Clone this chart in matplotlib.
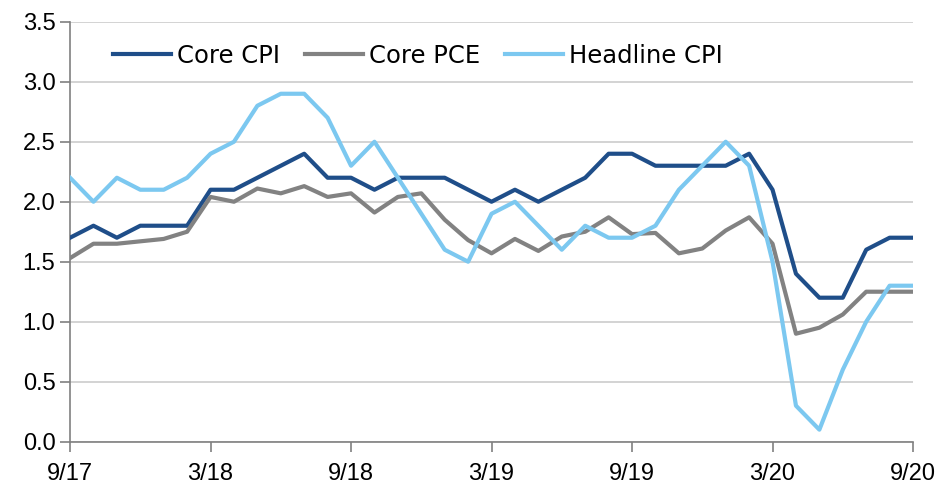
import matplotlib.pyplot as plt

months = list(range(37))
tick_pos = [0, 6, 12, 18, 24, 30, 36]
tick_labels = ['9/17', '3/18', '9/18', '3/19', '9/19', '3/20', '9/20']

core_cpi = [1.7, 1.8, 1.7, 1.8, 1.8, 1.8, 2.1, 2.1, 2.2, 2.3, 2.4, 2.2, 2.2,
            2.1, 2.2, 2.2, 2.2, 2.1, 2.0, 2.1, 2.0, 2.1, 2.2, 2.4, 2.4,
            2.3, 2.3, 2.3, 2.3, 2.4, 2.1, 1.4, 1.2, 1.2, 1.6, 1.7, 1.7]
core_pce = [1.53, 1.65, 1.65, 1.67, 1.69, 1.75, 2.04, 2.0, 2.11, 2.07, 2.13, 2.04, 2.07,
            1.91, 2.04, 2.07, 1.85, 1.68, 1.57, 1.69, 1.59, 1.71, 1.75, 1.87, 1.73,
            1.74, 1.57, 1.61, 1.76, 1.87, 1.65, 0.9, 0.95, 1.06, 1.25, 1.25, 1.25]
headline_cpi = [2.2, 2.0, 2.2, 2.1, 2.1, 2.2, 2.4, 2.5, 2.8, 2.9, 2.9, 2.7, 2.3,
                2.5, 2.2, 1.9, 1.6, 1.5, 1.9, 2.0, 1.8, 1.6, 1.8, 1.7, 1.7,
                1.8, 2.1, 2.3, 2.5, 2.3, 1.5, 0.3, 0.1, 0.6, 1.0, 1.3, 1.3]

plt.rcParams['font.family'] = ['Liberation Sans', 'DejaVu Sans']

fig = plt.figure(figsize=(9.44, 4.86), dpi=100)
ax = fig.add_axes([0.0742, 0.0912, 0.893, 0.864])

ax.plot(months, core_cpi, color='#1f4e89', lw=3, label='Core CPI', zorder=3)
ax.plot(months, core_pce, color='#828282', lw=3, label='Core PCE', zorder=3)
ax.plot(months, headline_cpi, color='#7cc8f0', lw=3, label='Headline CPI', zorder=3)

ax.set_xlim(0, 36)
ax.set_ylim(0, 3.5)
ax.set_xticks(tick_pos)
ax.set_xticklabels(tick_labels)
ax.set_yticks([0, 0.5, 1.0, 1.5, 2.0, 2.5, 3.0, 3.5])
ax.set_yticklabels(['0.0', '0.5', '1.0', '1.5', '2.0', '2.5', '3.0', '3.5'])
ax.tick_params(labelsize=17, color='#808080', length=7, width=1.2)
ax.tick_params(axis='x', pad=8)
ax.grid(axis='y', color='#d0d0d0', lw=1.3, zorder=0)
ax.set_axisbelow(True)
for s in ['top', 'right']:
    ax.spines[s].set_visible(False)
for s in ['left', 'bottom']:
    ax.spines[s].set_color('#808080')
    ax.spines[s].set_linewidth(1.2)

ax.legend(loc='upper left', bbox_to_anchor=(0.025, 1.0), ncol=3, frameon=False,
          prop={'family': 'DejaVu Sans', 'size': 17.5},
          handlelength=2.4, handletextpad=0.25, columnspacing=1.0)

fig.savefig('out.png', dpi=100)
